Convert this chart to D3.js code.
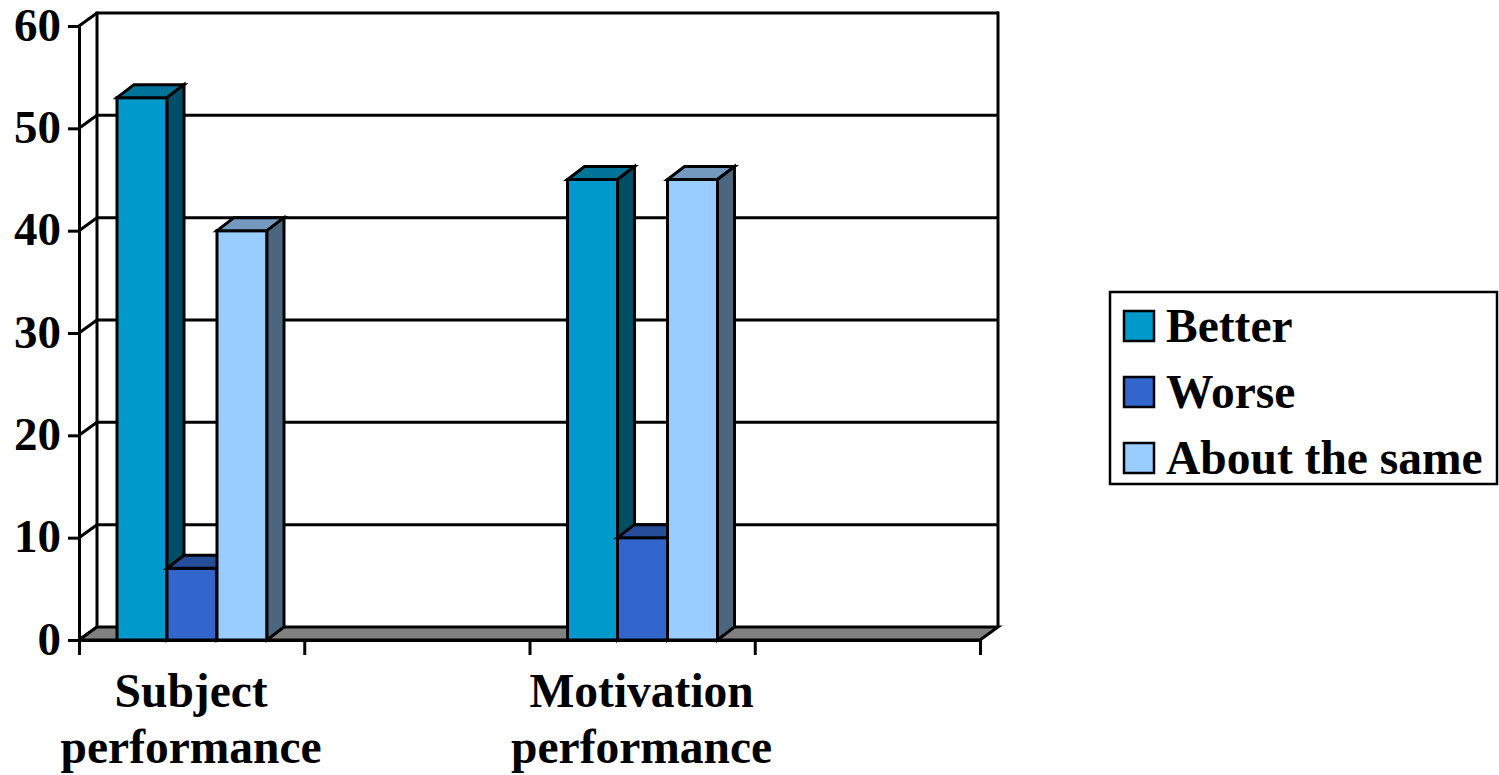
<!DOCTYPE html>
<html>
<head>
<meta charset="utf-8">
<script src="https://cdn.jsdelivr.net/npm/d3@7"></script>
<style>
  body { margin: 0; background: #fff; }
  text { font-family: "Liberation Serif", "Times New Roman", serif; font-weight: bold; }
</style>
</head>
<body>
<svg id="chart"></svg>
<script>
// data
const categories = [["Subject", "performance"], [], ["Motivation", "performance"], []];
const series = ["Better", "Worse", "About the same"];
const better = [53, null, 45, null];
const worse = [7, null, 10, null];
const same = [40, null, 45, null];
const yTicks = [0, 10, 20, 30, 40, 50, 60];

const colors = ["#0099cc", "#3366cc", "#99ccff"];

// dimensions
const width = 1499, height = 775;
const plotLeft = 79, plotRight = 980, plotBottom = 640, plotTop = 26;
const wallDx = 18, wallDy = -13;     // depth of the back wall
const barDx = 17, barDy = -13;       // depth of one column

const svg = d3.select("#chart")
  .attr("width", width)
  .attr("height", height);

const y = d3.scaleLinear([0, 60], [plotBottom, plotTop]);
const xCat = d3.scaleBand(d3.range(categories.length), [plotLeft, plotRight]);
const xEdge = d3.scaleLinear([0, categories.length], [plotLeft, plotRight]);
const xSeries = d3.scaleBand(series, [38, 188]);

// back wall + gridlines
const wall = svg.append("g").attr("stroke", "#000").attr("stroke-width", 3);
yTicks.filter(v => v > 0).forEach(v => {
  wall.append("line")
    .attr("x1", plotLeft + wallDx).attr("x2", plotRight + wallDx + 0.5)
    .attr("y1", y(v) + wallDy).attr("y2", y(v) + wallDy);
});
wall.append("line")
  .attr("x1", plotLeft + wallDx).attr("x2", plotLeft + wallDx)
  .attr("y1", y(60) + wallDy - 1.5).attr("y2", y(0) + wallDy);
wall.append("line")
  .attr("x1", plotRight + wallDx).attr("x2", plotRight + wallDx)
  .attr("y1", y(60) + wallDy - 1.5).attr("y2", y(0) + wallDy);

// side wall diagonals from the y axis to the back wall
yTicks.forEach(v => {
  wall.append("line")
    .attr("x1", plotLeft).attr("y1", y(v))
    .attr("x2", plotLeft + wallDx).attr("y2", y(v) + wallDy);
});

// floor
svg.append("path")
  .attr("d", `M${plotLeft},${y(0)}L${plotRight},${y(0)}L${plotRight + wallDx},${y(0) + wallDy}L${plotLeft + wallDx},${y(0) + wallDy}Z`)
  .attr("fill", "#808080")
  .attr("stroke", "#000")
  .attr("stroke-width", 3)
  .attr("stroke-linejoin", "miter");

// 3d columns
const values = [better, worse, same];
const bars = svg.append("g").attr("stroke", "#000").attr("stroke-width", 3).attr("stroke-linejoin", "miter");
categories.forEach((c, ci) => {
  series.forEach((s, si) => {
    const v = values[si][ci];
    if (v == null) return;
    const x0 = xCat(ci) + xSeries(s), x1 = x0 + xSeries.bandwidth();
    const y0 = y(0), y1 = y(v);
    const base = d3.color(colors[si]);
    const topCol = d3.rgb(base.r * 0.75, base.g * 0.75, base.b * 0.75);
    const sideCol = d3.rgb(base.r * 0.5, base.g * 0.5, base.b * 0.5);
    bars.append("rect")
      .attr("x", x0).attr("y", y1)
      .attr("width", x1 - x0).attr("height", y0 - y1)
      .attr("fill", base);
    bars.append("path")
      .attr("d", `M${x0},${y1}L${x0 + barDx},${y1 + barDy}L${x1 + barDx},${y1 + barDy}L${x1},${y1}Z`)
      .attr("fill", topCol);
    bars.append("path")
      .attr("d", `M${x1},${y1}L${x1 + barDx},${y1 + barDy}L${x1 + barDx},${y0 + barDy}L${x1},${y0}Z`)
      .attr("fill", sideCol);
  });
});

// y axis
svg.append("g")
  .attr("transform", `translate(${plotLeft},0)`)
  .call(d3.axisLeft(y).tickValues(yTicks).tickSize(11).tickPadding(7).tickSizeOuter(0))
  .call(g => g.select(".domain").attr("stroke-width", 3))
  .call(g => g.selectAll(".tick line").attr("stroke-width", 3))
  .call(g => g.selectAll(".tick text")
    .attr("font-size", 47)
    .attr("dy", "0.3em")
    .attr("fill", "#000"));

// x axis
svg.append("g")
  .attr("transform", `translate(0,${plotBottom})`)
  .call(d3.axisBottom(xEdge).tickValues(d3.range(categories.length + 1)).tickSize(15).tickFormat("").tickSizeOuter(0))
  .call(g => g.select(".domain").attr("stroke-width", 3))
  .call(g => g.selectAll(".tick line").attr("stroke-width", 3));

// category labels
categories.forEach((lines, ci) => {
  const cx = xCat(ci) + xCat.bandwidth() / 2 - 0.5;
  const t = svg.append("text")
    .attr("text-anchor", "middle")
    .attr("font-size", 47.5)
    .attr("x", cx)
    .attr("y", 707);
  lines.forEach((l, li) => {
    t.append("tspan")
      .attr("x", cx)
      .attr("dy", li === 0 ? 0 : 56)
      .text(l);
  });
});

// legend
const legend = svg.append("g");
legend.append("rect")
  .attr("x", 1110).attr("y", 292)
  .attr("width", 387).attr("height", 192)
  .attr("fill", "#fff").attr("stroke", "#000").attr("stroke-width", 2.5);
series.forEach((s, i) => {
  const cy = 326 + i * 66;
  legend.append("rect")
    .attr("x", 1124).attr("y", cy - 15)
    .attr("width", 30).attr("height", 30)
    .attr("fill", colors[i]).attr("stroke", "#000").attr("stroke-width", 2.5);
  legend.append("text")
    .attr("x", 1166).attr("y", cy + 16)
    .attr("font-size", 47.5)
    .text(s);
});
</script>
</body>
</html>
